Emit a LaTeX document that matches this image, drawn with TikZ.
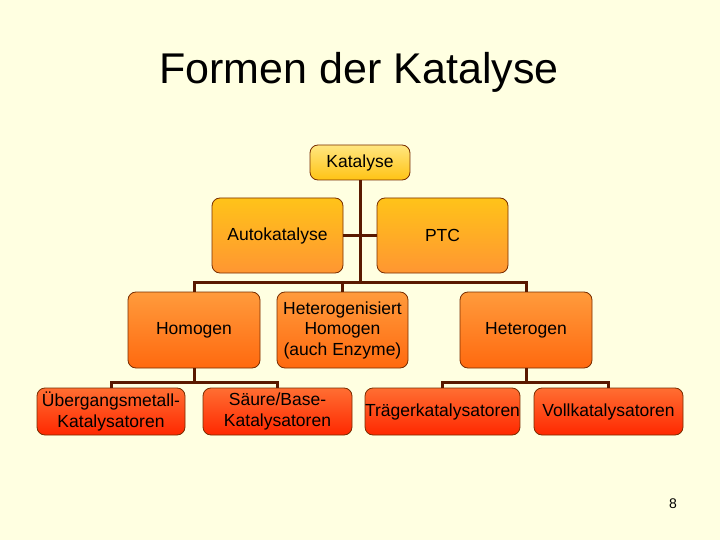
\documentclass[tikz,border=0pt]{standalone}
\usepackage{fontspec}
\setmainfont{Liberation Sans}
\usetikzlibrary{positioning}

\definecolor{slidebg}{RGB}{255,255,225}
\definecolor{boxline}{RGB}{120,45,0}
\definecolor{connline}{RGB}{90,25,0}

\tikzset{
	katbox/.style={draw=boxline, line width=0.8pt, rounded corners=8pt, inner sep=0pt, align=center,
		font=\fontsize{17.5}{20.5}\selectfont},
	lvlone/.style={katbox, top color={rgb,255:red,255;green,230;blue,128}, bottom color={rgb,255:red,255;green,195;blue,20}},
	lvltwo/.style={katbox, top color={rgb,255:red,255;green,195;blue,25}, bottom color={rgb,255:red,255;green,150;blue,50}},
	lvlthree/.style={katbox, top color={rgb,255:red,255;green,155;blue,60}, bottom color={rgb,255:red,255;green,105;blue,15}},
	lvlfour/.style={katbox, top color={rgb,255:red,255;green,110;blue,50}, bottom color={rgb,255:red,255;green,40;blue,0}},
	conn/.style={draw=connline, line width=3pt}
}

\begin{document}
\begin{tikzpicture}[x=1pt, y=-1pt]
		%%%%% START %%%%%
		
		\fill[slidebg] (0, 0) rectangle (720, 540);
		\useasboundingbox (0, 0) rectangle (720, 540);
		
		\node[anchor=base, font=\fontsize{43}{45}\selectfont] (title) at (359, 84) {Formen der Katalyse};
		
		%% junction points of the connectors
		\coordinate (barA) at (360, 282);
		\coordinate (barB) at (194, 382);
		\coordinate (barC) at (526, 382);
		
		%% boxes
		\node[lvlone, minimum width=100pt, minimum height=35pt] (kat) at (360, 162.5) {Katalyse};
		
		\node[lvltwo, minimum width=131pt, minimum height=75pt] (auto) at (277.5, 235.5) {Autokatalyse};
		\node[lvltwo, minimum width=131pt, minimum height=75pt] (ptc) at (442.5, 235.5) {PTC};
		
		\node[lvlthree, minimum width=132pt, minimum height=76pt] (homo) at (194, 330) {Homogen};
		\node[lvlthree, minimum width=131pt, minimum height=76pt] (hetgen) at (342.5, 330) {Heterogenisiert\\Homogen\\(auch Enzyme)};
		\node[lvlthree, minimum width=132pt, minimum height=76pt] (hetero) at (526, 330) {Heterogen};
		
		\node[lvlfour, minimum width=148pt, minimum height=47pt] (tm) at (111, 411.5) {Übergangsmetall-\\Katalysatoren};
		\node[lvlfour, minimum width=149pt, minimum height=47pt] (sb) at (277.5, 411.5) {Säure/Base-\\Katalysatoren};
		\node[lvlfour, minimum width=149pt, minimum height=47pt] (traeger) at (442.5, 411.5) {Trägerkatalysatoren};
		\node[lvlfour, minimum width=149pt, minimum height=47pt] (voll) at (608.5, 411.5) {Vollkatalysatoren};
		
		%% connectors
		\draw[conn] (kat.south) -- (barA);
		\draw[conn] (auto.east) -- (ptc.west);
		\draw[conn] (homo.north) |- (barA) -| (hetero.north);
		\draw[conn] (hetgen.north) -- (hetgen.north |- barA);
		
		\draw[conn] (homo.south) -- (barB);
		\draw[conn] (tm.north) |- (barB) -| (sb.north);
		
		\draw[conn] (hetero.south) -- (barC);
		\draw[conn] (traeger.north) |- (barC) -| (voll.north);
		
		\node[anchor=base, font=\fontsize{14}{16}\selectfont] (pagenum) at (673, 508) {8};
		
		%%%%% END %%%%%
	\end{tikzpicture}
\end{document}
